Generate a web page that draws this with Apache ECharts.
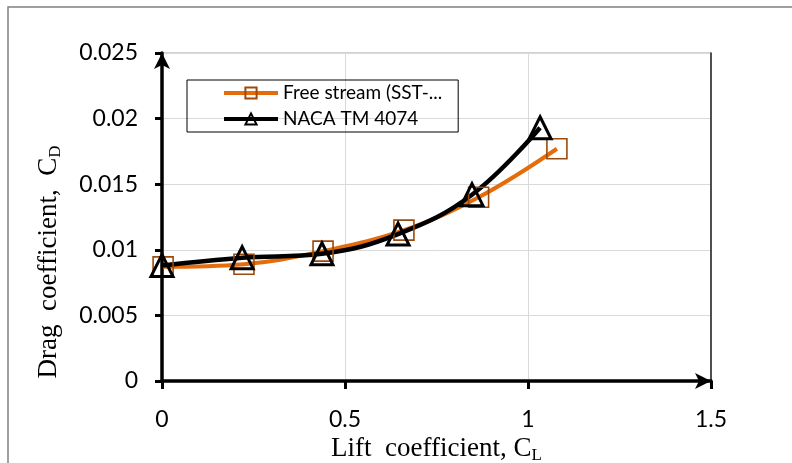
<!DOCTYPE html>
<html>
<head>
<meta charset="utf-8">
<script src="https://cdn.jsdelivr.net/npm/echarts@6/dist/echarts.min.js"></script>
<style>
  html, body { margin: 0; padding: 0; background: #fff; }
  #chart { width: 792px; height: 463px; }
</style>
</head>
<body>
<div id="chart"></div>
<script>
// values
var clFree = [0.003, 0.224, 0.44, 0.661, 0.865, 1.079];
var cdFree = [0.0087, 0.0089, 0.0099, 0.0115, 0.0140, 0.0177];
var clNaca = [0.0, 0.219, 0.437, 0.645, 0.847, 1.033];
var cdNaca = [0.0088, 0.0094, 0.0097, 0.0112, 0.0142, 0.0193];
var seriesNames = ['Free stream (SST-...', 'NACA TM 4074'];

function pairs(xs, ys) {
  var out = [];
  for (var i = 0; i < xs.length; i++) out.push([xs[i], ys[i]]);
  return out;
}

var chart = echarts.init(document.getElementById('chart'));
var tickFont = { color: '#000', fontFamily: 'Lato', fontSize: 23 };
var titleRich = {
  a: { fontFamily: 'Liberation Serif', fontSize: 27, color: '#000' },
  b: { fontFamily: 'Liberation Serif', fontSize: 17, color: '#000', padding: [13, 0, 0, 0] }
};

var option = {
  animation: false,
  backgroundColor: '#fff',
  graphic: [{
    type: 'rect',
    shape: { x: 8, y: 7, width: 900, height: 600 },
    style: { fill: 'none', stroke: '#808080', lineWidth: 1.5 },
    silent: true
  }],
  grid: {
    left: 162, right: 81, top: 53, bottom: 82,
    outerBoundsMode: 'none',
    show: true, borderColor: '#a6a6a6', borderWidth: 1
  },
  legend: {
    orient: 'vertical',
    left: 187, top: 80,
    padding: [3, 16, 3, 35],
    itemGap: 6,
    itemWidth: 54, itemHeight: 14,
    borderColor: '#000', borderWidth: 1,
    lineStyle: { width: 4 },
    textStyle: { color: '#000', fontFamily: 'Lato', fontSize: 19, lineHeight: 20 },
    data: seriesNames
  },
  xAxis: {
    type: 'value', min: 0, max: 1.5, interval: 0.5,
    name: '{a|Lift  coefficient, C}{b|L}',
    nameLocation: 'middle', nameGap: 49,
    nameTextStyle: { rich: titleRich },
    axisLine: { lineStyle: { color: '#000', width: 3.5 }, symbol: ['none', 'arrow'], symbolSize: [12, 16] },
    axisTick: { inside: false, length: 8, lineStyle: { color: '#000', width: 3 } },
    axisLabel: Object.assign({ margin: 27 }, tickFont),
    splitLine: { show: true, lineStyle: { color: '#d9d9d9', width: 1 } }
  },
  yAxis: [{
    type: 'value', min: 0, max: 0.025, interval: 0.005,
    name: '{a|Drag  coefficient,  C}{b|D}',
    nameLocation: 'middle', nameGap: 98, nameRotate: 90,
    nameTextStyle: { padding: [0, 90, 0, 0], rich: titleRich },
    axisLine: { show: true, lineStyle: { color: '#000', width: 3.5 }, symbol: ['none', 'arrow'], symbolSize: [12, 16] },
    axisTick: { show: true, inside: false, length: 7, lineStyle: { color: '#000', width: 3 } },
    axisLabel: Object.assign({ margin: 24 }, tickFont),
    splitLine: { show: true, lineStyle: { color: '#d9d9d9', width: 1 } }
  }, {
    type: 'value', min: 0, max: 0.025, interval: 0.005, position: 'right',
    axisLine: { show: true, onZero: false, lineStyle: { color: '#222', width: 1.5 } },
    axisTick: { show: false }, axisLabel: { show: false }, splitLine: { show: false }
  }],
  series: [{
    name: seriesNames[0],
    type: 'line',
    smooth: 0.4,
    data: pairs(clFree, cdFree),
    symbol: 'rect', symbolSize: 20,
    lineStyle: { color: '#E46C0A', width: 4 },
    itemStyle: { color: 'rgba(0,0,0,0)', borderColor: '#9C4A0C', borderWidth: 1.6 }
  }, {
    name: seriesNames[1],
    type: 'line',
    smooth: 0.4,
    data: pairs(clNaca, cdNaca),
    symbol: 'triangle', symbolSize: 22,
    lineStyle: { color: '#000', width: 4.5 },
    itemStyle: { color: 'rgba(0,0,0,0)', borderColor: '#000', borderWidth: 3 }
  }]
};

chart.setOption(option);
</script>
</body>
</html>
